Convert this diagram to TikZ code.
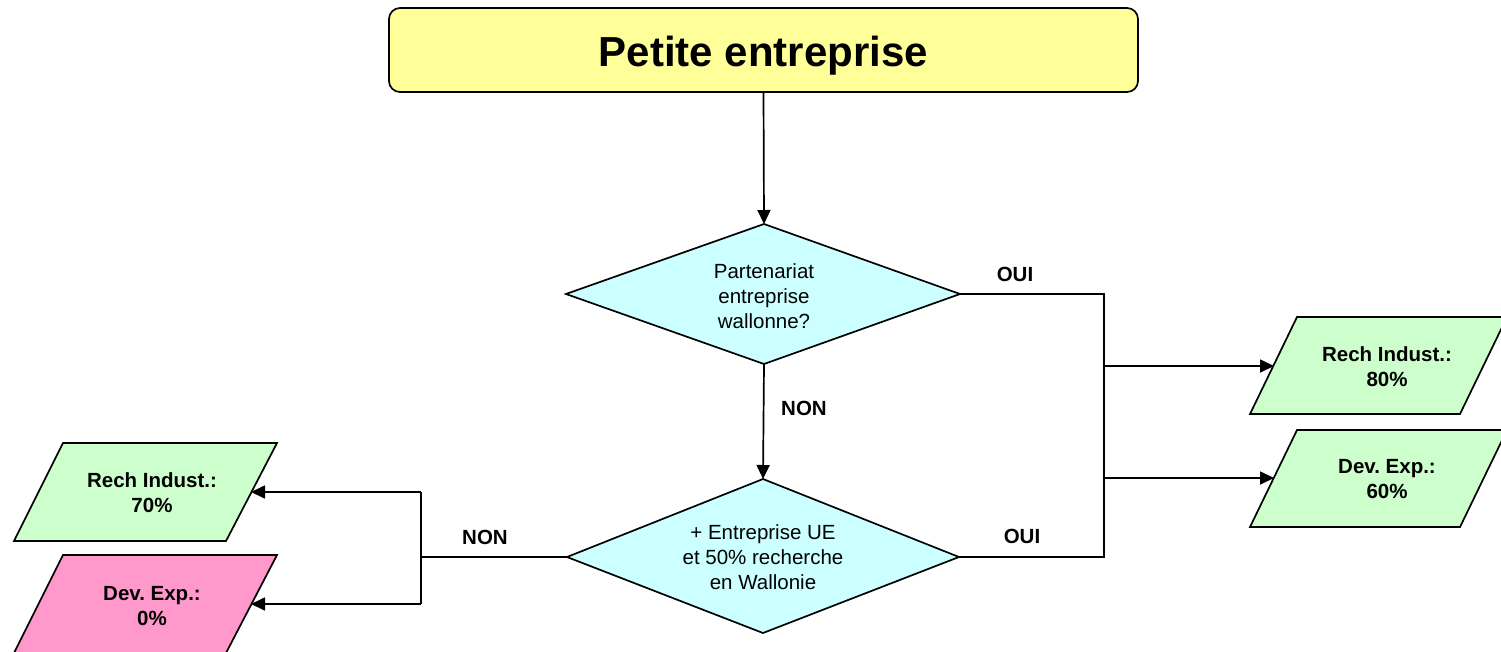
\documentclass[tikz,border=0pt]{standalone}
\usepackage{fontspec}
\setmainfont{Liberation Sans}
\usetikzlibrary{arrows.meta}
\definecolor{titlefill}{HTML}{FFFF99}
\definecolor{diafill}{HTML}{CCFFFF}
\definecolor{okfill}{HTML}{CCFFCC}
\definecolor{nofill}{HTML}{FF99CC}
\frenchspacing
\begin{document}
\begin{tikzpicture}[x=1pt,y=-1pt,
  conn/.style={line width=1.7pt},
  arr/.style={conn,-{Triangle[length=14pt,width=13pt]}},
  shapeline/.style={draw=black,line width=1.7pt,line join=miter},
  body/.style={font=\fontsize{20.5}{25}\selectfont, align=center, inner sep=0pt},
  bodyb/.style={font=\fontsize{20.5}{25}\selectfont\bfseries, align=center, inner sep=0pt}]
\useasboundingbox (0,0) rectangle (1501,651);
\clip (0,0) rectangle (1501,651);
% title
\node[draw, line width=1.7pt, fill=titlefill, rounded corners=11pt, minimum width=749pt, minimum height=84pt, inner sep=0pt, text depth=0pt, font=\fontsize{42}{50}\selectfont\bfseries] (title) at (763.5,50) {\raisebox{-3pt}{Petite entreprise}};
% diamond 1
\coordinate (d1t) at (764,224);
\coordinate (d1b) at (764,364);
\coordinate (d1l) at (566,294);
\coordinate (d1r) at (960,294);
\draw[shapeline, fill=diafill] (d1t) -- (d1r) -- (d1b) -- (d1l) -- cycle;
\node[body] (d1) at (764,296) {Partenariat\\entreprise\\wallonne?};
% diamond 2
\coordinate (d2t) at (763,479);
\coordinate (d2b) at (763,633);
\coordinate (d2l) at (567,557);
\coordinate (d2r) at (959,557);
\draw[shapeline, fill=diafill] (d2t) -- (d2r) -- (d2b) -- (d2l) -- cycle;
\node[body] (d2) at (763,557) {+ Entreprise UE\\et 50\% recherche\\en Wallonie};
% right parallelograms
\draw[shapeline, fill=okfill] (1297,317) -- (1507,317) -- (1460,414) -- (1250,414) -- cycle;
\node[bodyb] (p1) at (1387,367) {Rech Indust.:\\80\%};
\coordinate (p1in) at (1274,366);
\draw[shapeline, fill=okfill] (1297,430) -- (1507,430) -- (1460,527) -- (1250,527) -- cycle;
\node[bodyb] (p2) at (1387,479) {Dev. Exp.:\\60\%};
\coordinate (p2in) at (1274,478);
% left parallelograms
\draw[shapeline, fill=okfill] (63,443) -- (277,443) -- (226,541) -- (14,541) -- cycle;
\node[bodyb] (p3) at (152,493) {Rech Indust.:\\70\%};
\coordinate (p3in) at (251,492);
\draw[shapeline, fill=nofill] (63,555) -- (277,555) -- (226,653) -- (14,653) -- cycle;
\node[bodyb] (p4) at (152,606) {Dev. Exp.:\\0\%};
\coordinate (p4in) at (251,604);
% connectors
\draw[arr] (title.south) -- (d1t);
\draw[arr] (d1b) -- (d2t);
\coordinate (rbot) at (1104,557);
\coordinate (rb1) at (1104,366);
\coordinate (rb2) at (1104,478);
\draw[conn] (d1r) -| (rbot) -- (d2r);
\draw[arr] (rb1) -- (p1in);
\draw[arr] (rb2) -- (p2in);
\coordinate (lj) at (421,557);
\coordinate (lt) at (421,492);
\coordinate (lb) at (421,604);
\draw[conn] (d2l) -- (lj);
\draw[conn] (lt) -- (lb);
\draw[arr] (lt) -- (p3in);
\draw[arr] (lb) -- (p4in);
% labels
\node[bodyb] (oui1) at (1015,274) {OUI};
\node[bodyb] (oui2) at (1022,536) {OUI};
\node[bodyb] (non1) at (804,408) {NON};
\node[bodyb] (non2) at (485,537) {NON};
\end{tikzpicture}
\end{document}
